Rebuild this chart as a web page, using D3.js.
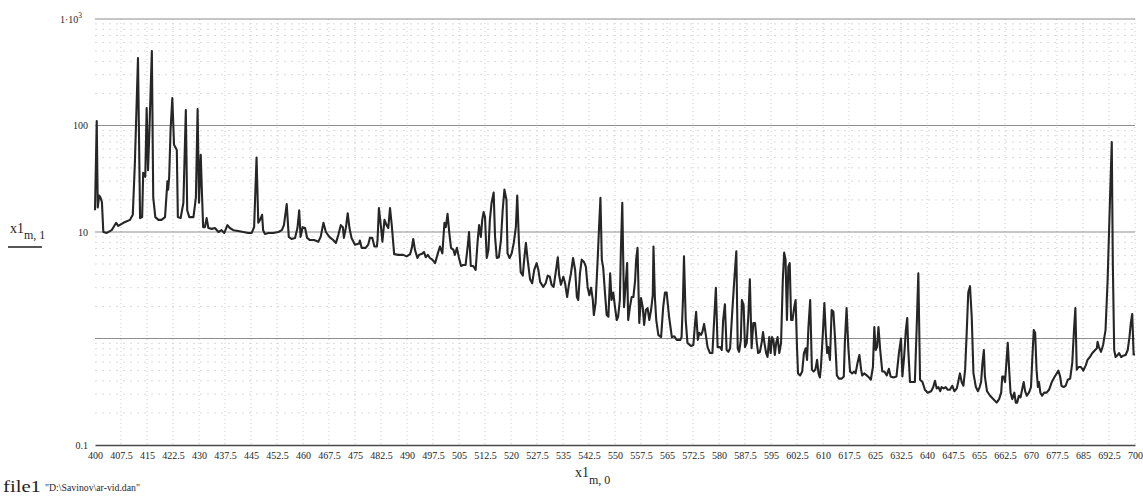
<!DOCTYPE html>
<html>
<head>
<meta charset="utf-8">
<script src="https://cdn.jsdelivr.net/npm/d3@7"></script>
<style>
  html, body { margin: 0; padding: 0; background: #fff; }
  svg { display: block; }
  text { font-family: "Liberation Serif", "DejaVu Serif", serif; fill: #1f1f1f; }
</style>
</head>
<body>
<svg id="chart" width="1143" height="501"></svg>
<script>
// Spectrum read from file1: wavelength (x1 column 0) and intensity (x1 column 1)
const wavelengths = [
  400.0,400.5,400.8,401.2,401.6,402.0,402.4,403.4,404.8,406.1,
  406.7,408.2,410.1,410.9,411.5,412.4,413.0,413.6,413.9,414.5,
  414.9,415.3,415.7,416.4,416.8,417.4,418.3,419.2,420.2,420.9,
  421.1,421.4,421.8,422.3,422.8,423.6,423.9,424.7,425.5,426.2,
  426.6,427.2,428.4,429.1,429.6,430.0,430.5,430.9,431.2,431.7,
  432.2,432.7,433.7,434.6,435.6,436.5,437.3,438.2,438.9,439.9,
  441.3,442.8,444.2,445.2,445.9,446.6,447.1,447.6,448.2,448.5,
  449.0,450.0,451.4,452.9,453.9,454.5,455.3,455.9,456.7,457.7,
  458.4,458.9,459.3,459.9,460.6,461.2,462.0,463.2,464.4,465.1,
  465.9,466.6,467.6,468.7,469.5,470.2,470.9,471.5,471.8,472.4,
  472.9,473.4,474.0,475.0,476.2,476.4,476.9,478.1,478.8,479.3,
  480.0,480.6,481.3,481.5,481.9,482.5,482.9,483.5,484.1,484.6,
  485.1,485.6,486.3,487.5,488.9,489.9,490.9,491.4,491.8,492.3,
  493.0,493.5,494.2,494.9,495.4,496.0,496.6,497.3,498.1,498.9,
  499.5,500.2,500.8,501.2,501.7,502.2,502.7,503.4,503.8,504.4,
  505.0,505.6,506.2,506.9,507.5,507.9,508.4,509.1,509.8,510.4,
  510.8,511.3,511.7,512.1,512.5,513.0,513.5,513.9,514.4,515.0,
  515.4,515.9,516.5,517.1,517.6,518.1,518.7,519.0,519.6,520.2,
  520.8,521.4,521.8,522.3,522.8,523.4,523.8,524.3,524.8,525.5,
  526.1,526.7,527.4,527.9,528.4,529.3,530.0,530.6,531.2,531.7,
  532.3,533.0,533.5,533.9,534.4,535.1,535.6,536.2,536.7,537.3,
  537.9,538.5,539.0,539.4,539.9,540.4,541.1,541.6,542.1,542.6,
  543.1,543.6,543.9,544.4,545.0,545.4,545.8,546.2,546.6,547.1,
  547.6,548.1,548.6,549.0,549.5,550.0,550.5,550.9,551.4,551.7,
  552.1,552.6,553.1,553.5,553.8,554.3,554.8,555.3,555.8,556.1,
  556.5,557.0,557.5,558.0,558.4,558.9,559.4,559.9,560.4,560.9,
  561.1,561.5,561.9,562.5,563.3,563.9,564.4,564.9,565.6,566.4,
  567.1,567.8,568.8,569.2,569.6,569.9,570.4,570.9,571.9,572.6,
  573.1,573.4,573.9,574.3,574.8,575.2,575.7,576.2,576.7,577.4,
  578.1,578.6,579.1,579.6,580.3,580.8,581.2,581.7,582.2,582.7,
  583.2,583.8,584.4,585.0,585.4,585.8,586.3,586.6,587.1,587.5,
  588.0,588.5,588.9,589.4,589.9,590.4,590.9,591.3,591.8,592.3,
  592.7,593.1,593.6,594.0,594.5,594.9,595.3,595.7,596.1,596.5,
  596.9,597.4,597.9,598.4,598.8,599.2,599.6,600.0,600.4,600.8,
  601.2,601.7,602.1,602.5,602.8,603.4,604.0,604.5,605.0,605.4,
  605.8,606.3,606.8,607.3,607.8,608.3,608.7,609.1,609.4,609.9,
  610.4,610.8,611.2,611.5,612.0,612.5,613.0,613.5,614.0,614.6,
  615.4,616.0,616.3,616.8,617.3,617.8,618.4,619.0,619.4,620.0,
  620.5,621.0,621.3,621.9,622.6,623.3,623.8,624.4,624.8,625.2,
  625.6,626.0,626.5,627.1,627.7,628.4,629.0,629.5,630.3,631.2,
  631.9,632.5,632.9,633.4,633.9,634.3,634.6,635.1,635.8,636.5,
  637.0,637.5,638.0,638.7,639.4,640.2,641.2,641.8,642.3,642.8,
  643.3,643.8,644.2,644.8,645.4,646.0,646.6,647.3,647.9,648.6,
  649.0,649.5,650.0,650.5,651.0,651.4,651.9,652.4,652.9,653.4,
  654.1,654.7,655.2,655.6,656.0,656.4,656.7,657.3,658.2,659.1,
  660.1,660.8,661.4,661.7,662.1,662.5,662.9,663.3,663.7,664.1,
  664.6,665.2,665.6,666.0,666.5,667.0,667.5,667.9,668.3,668.8,
  669.4,670.0,670.4,670.8,671.2,671.6,672.0,672.3,672.7,673.2,
  673.8,674.5,675.2,676.0,676.7,677.4,677.9,678.4,678.8,679.4,
  680.0,680.6,681.3,681.9,682.4,682.8,683.2,683.7,684.4,685.1,
  685.8,686.3,687.0,687.7,688.5,689.0,689.2,689.6,690.2,690.8,
  691.5,692.1,692.8,693.3,693.6,694.0,694.4,695.0,695.4,696.0,
  696.6,697.3,697.9,698.4,698.8,699.2,699.6,700.0
];

const intensities = [
  16,110,17,22,21,19,10,9.8,10.4,12.2,
  11.4,12.2,13,14.5,44,430,13.5,13.8,36,33,
  146,38,91,500,21,13.8,13,13,13.8,30,
  25,33,91,181,66,59,13.8,13.5,18.8,140,
  16,13.8,13.8,21,143,18.8,53,21,11.1,11.1,
  13.5,10.9,10.7,10.9,10,10.4,9.8,11.6,10.9,10.4,
  10.2,10,9.8,9.8,11.1,50,12.2,13,14.5,10.4,
  9.6,9.8,9.8,10,10.4,11.6,18.3,9.0,8.6,8.8,
  10.9,16,9.0,11.1,10.9,8.8,8.4,8.4,8.1,9.0,
  12.2,10,9.0,8.4,7.9,9.4,11.6,11.1,8.8,11.1,
  15,10.9,8.8,7.6,7.8,8.3,7.1,7.1,7.6,8.8,
  8.8,7.3,7.3,8.4,16.8,11.1,8.1,13,11.6,10.9,
  16.8,11.6,6.2,6.1,6.1,5.9,6.2,7.1,8.6,6.8,
  5.7,6.1,6.2,6.5,5.8,6.1,5.7,5.5,5.1,6.3,
  7.3,6.3,12.2,11.1,14.8,9.8,7.1,6.8,6.1,7.1,
  5.7,4.8,4.9,4.9,7.3,10,4.8,4.8,4.4,8.4,
  11.6,9.0,13,15.4,13.8,5.7,6.8,13,18.8,23.5,
  9.0,5.7,5.8,8.4,16,25,20,6.3,5.7,6.3,
  7.9,11.1,22,7.9,4.2,3.9,5.5,7.9,5.5,3.6,
  3.3,4.4,5.1,4.4,3.4,3.05,3.3,3.9,3.8,3.2,
  3.05,4.4,5.8,3.9,3.2,3.8,3.3,2.45,3.2,4.1,
  5.7,4.4,2.45,2.3,4.1,5.5,5.2,4.7,3.05,2.55,
  3.0,2.3,1.66,2.15,5.5,11.1,21,5.5,4.6,2.7,
  1.66,1.6,4.1,2.3,2.7,1.97,1.49,1.6,2.3,6.8,
  18.8,1.97,3.3,5.1,1.49,1.97,2.45,2.45,3.5,5.5,
  7.1,1.4,2.4,1.97,1.34,1.85,1.93,1.49,1.85,2.55,
  7.3,2.45,1.49,1.08,1.03,1.97,2.7,2.7,1.6,1.03,
  1.05,0.97,0.97,1.03,2.3,5.9,1.49,0.91,0.85,0.87,
  1.4,1.78,0.97,1.13,1.08,1.15,1.37,1.08,0.83,0.73,
  0.73,1.49,3.0,0.83,0.83,0.78,1.49,2.1,0.78,0.75,
  0.81,1.73,3.5,6.6,0.81,0.75,0.97,2.3,2.06,0.83,
  0.91,1.73,3.6,0.81,1.4,1.4,0.91,0.73,0.75,0.91,
  1.15,0.91,0.73,0.67,1.03,0.73,1.03,0.97,0.70,0.91,
  1.03,0.73,0.91,3.5,6.4,5.5,1.49,4.7,5.1,1.49,
  1.49,1.97,2.3,0.83,0.47,0.45,0.49,0.73,0.81,0.63,
  1.28,2.3,0.51,0.49,0.51,0.63,0.47,0.43,0.54,1.03,
  2.15,1.13,0.73,0.83,0.63,1.85,1.78,0.97,0.45,0.42,
  0.42,0.44,0.91,1.93,0.83,0.49,0.47,0.49,0.47,0.6,
  0.70,0.51,0.45,0.47,0.45,0.43,0.41,0.54,1.28,0.78,
  0.83,1.28,0.78,0.49,0.49,0.45,0.52,0.44,0.43,0.44,
  0.73,1.0,0.44,0.67,1.2,1.56,0.78,0.39,0.39,0.39,
  1.2,4.1,0.41,0.39,0.33,0.31,0.32,0.35,0.40,0.34,
  0.35,0.32,0.35,0.34,0.35,0.33,0.33,0.36,0.32,0.34,
  0.39,0.47,0.39,0.36,0.51,1.03,2.7,3.1,1.6,0.47,
  0.35,0.32,0.35,0.39,0.59,0.78,0.44,0.32,0.29,0.27,
  0.25,0.27,0.31,0.44,0.44,0.39,0.59,0.91,0.51,0.31,
  0.27,0.31,0.25,0.25,0.29,0.28,0.34,0.39,0.32,0.29,
  0.31,0.35,0.67,1.2,1.13,0.51,0.35,0.39,0.31,0.29,
  0.31,0.31,0.33,0.39,0.43,0.47,0.50,0.44,0.36,0.35,
  0.36,0.41,0.42,0.59,1.2,1.93,0.51,0.54,0.54,0.50,
  0.56,0.63,0.67,0.73,0.78,0.81,0.93,0.83,0.75,0.87,
  1.2,3.5,21,70,5.1,0.78,0.67,0.70,0.73,0.67,
  0.69,0.70,0.78,1.03,1.4,1.7,0.71,0.71
];

// Axis ticks
const xTickValues = [
  400,407.5,415,422.5,430,437.5,445,452.5,460,467.5,475,482.5,490,497.5,
  505,512.5,520,527.5,535,542.5,550,557.5,565,572.5,580,587.5,595,602.5,
  610,617.5,625,632.5,640,647.5,655,662.5,670,677.5,685,692.5,700
];
const yLabelValues = [1000, 100, 10, 0.1];
const yDecades = [0.1, 1, 10, 100, 1000];

// Texts
const fileName = "file1";
const filePath = "\"D:\\Savinov\\ar-vid.dan\"";

const svg = d3.select("#chart");
const plot = { left: 95, right: 1135, top: 19, bottom: 445 };

const x = d3.scaleLinear().domain([400, 700]).range([plot.left, plot.right]);
const y = d3.scaleLog().domain([0.1, 1000]).range([plot.bottom, plot.top]);

// Minor horizontal grid (2..9 within each decade), faint dotted
const minorValues = [];
yDecades.slice(0, -1).forEach(d => { for (let k = 2; k <= 9; k++) minorValues.push(d * k); });
svg.append("g")
  .selectAll("line").data(minorValues).join("line")
  .attr("x1", plot.left).attr("x2", plot.right)
  .attr("y1", d => y(d)).attr("y2", d => y(d))
  .attr("stroke", "#dadada").attr("stroke-width", 1)
  .attr("stroke-dasharray", "2,5");

// Vertical grid at every x tick, dotted
svg.append("g")
  .selectAll("line").data(xTickValues.slice(1)).join("line")
  .attr("x1", d => x(d)).attr("x2", d => x(d))
  .attr("y1", plot.top).attr("y2", plot.bottom)
  .attr("stroke", "#cccccc").attr("stroke-width", 1)
  .attr("stroke-dasharray", "1,3");

// Decade grid lines
svg.append("g")
  .selectAll("line").data(yDecades.slice(1)).join("line")
  .attr("x1", plot.left).attr("x2", plot.right)
  .attr("y1", d => y(d)).attr("y2", d => y(d))
  .attr("stroke", "#8e8e8e").attr("stroke-width", 1.2);

// Spectrum trace
const spectrum = wavelengths.map((w, i) => [w, intensities[i]]);
const line = d3.line().x(d => x(d[0])).y(d => y(d[1]));
svg.append("path")
  .datum(spectrum)
  .attr("d", line)
  .attr("fill", "none")
  .attr("stroke", "#262626")
  .attr("stroke-width", 2.1)
  .attr("stroke-linejoin", "round");

// X axis
const xAxis = svg.append("g")
  .attr("transform", `translate(0,${plot.bottom})`)
  .call(d3.axisBottom(x).tickValues(xTickValues).tickSize(0).tickPadding(7)
    .tickFormat(d => String(d)));
xAxis.select(".domain").attr("stroke", "#4a4a4a").attr("stroke-width", 1.4);
xAxis.selectAll("text")
  .attr("font-family", "Liberation Serif, DejaVu Serif, serif")
  .attr("font-size", 10).attr("fill", "#1f1f1f");

// Y axis (log, decade labels)
const yAxis = svg.append("g")
  .attr("transform", `translate(${plot.left},0)`)
  .call(d3.axisLeft(y).tickValues(yLabelValues).tickSize(0).tickPadding(7)
    .tickFormat(d => d === 1000 ? "" : String(d)));
yAxis.select(".domain").remove();
yAxis.selectAll("text")
  .attr("font-family", "Liberation Serif, DejaVu Serif, serif")
  .attr("font-size", 10).attr("fill", "#1f1f1f");
yAxis.selectAll(".tick").filter(d => d === 1000).select("text")
  .attr("x", -13)
  .call(t => {
    t.append("tspan").text("1·10");
    t.append("tspan").text("3").attr("font-size", 7.5).attr("dy", -5);
  });

// Y axis title: x1 subscript m,1 with fraction bar
const yTitle = svg.append("text").attr("x", 10).attr("y", 233).attr("font-size", 14);
yTitle.append("tspan").text("x1");
yTitle.append("tspan").text("m, 1").attr("font-size", 12).attr("dy", 6);
svg.append("line")
  .attr("x1", 8).attr("x2", 42).attr("y1", 247).attr("y2", 247)
  .attr("stroke", "#1f1f1f").attr("stroke-width", 1.6);

// X axis title: x1 subscript m,0
const xTitle = svg.append("text").attr("x", 575).attr("y", 477).attr("font-size", 14);
xTitle.append("tspan").text("x1");
xTitle.append("tspan").text("m, 0").attr("font-size", 12).attr("dy", 7);

// File reference line
svg.append("text").attr("x", 3).attr("y", 492).attr("font-size", 16)
  .attr("textLength", 38).attr("lengthAdjust", "spacingAndGlyphs")
  .text(fileName);
svg.append("text").attr("x", 45).attr("y", 491).attr("font-size", 10.5)
  .attr("textLength", 95).attr("lengthAdjust", "spacingAndGlyphs")
  .text(filePath);
</script>
</body>
</html>
